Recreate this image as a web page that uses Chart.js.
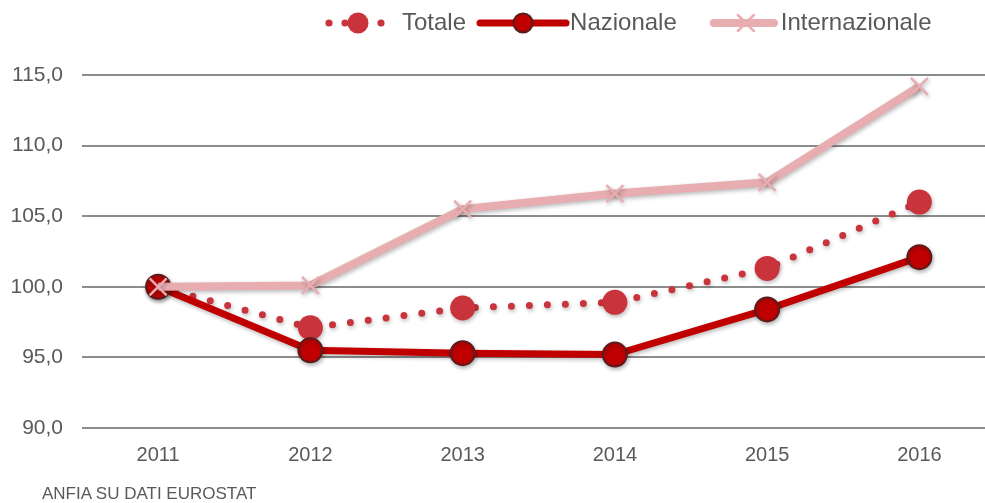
<!DOCTYPE html>
<html>
<head>
<meta charset="utf-8">
<script src="https://cdn.jsdelivr.net/npm/chart.js@4.4.1/dist/chart.umd.min.js"></script>
<style>
  body { margin: 0; overflow: hidden; background: #fff; }
  #wrap { position: relative; width: 1010px; height: 503px; }
  #source {
    position: absolute; left: 42px; top: 484px;
    font: 17px "Liberation Sans", sans-serif; color: #595959;
  }
</style>
</head>
<body>
<div id="wrap">
  <canvas id="chart" width="1010" height="503"></canvas>
  <div id="source">ANFIA SU DATI EUROSTAT</div>
</div>
<script>
// data (2011 = 100)
const years = ['2011', '2012', '2013', '2014', '2015', '2016'];
const totale = [100.0, 97.1, 98.5, 98.9, 101.3, 106.0];
const nazionale = [100.0, 95.5, 95.3, 95.2, 98.4, 102.1];
const internazionale = [100.0, 100.1, 105.5, 106.6, 107.4, 114.2];

const RED_TOT = '#c9333c';
const RED_NAZ = '#c00000';
const PINK = '#e8adb0';
const TEXT = '#595959';

// small pictures for the legend: line + marker, like the original
function makeIcon(w, draw) {
  const c = document.createElement('canvas');
  c.width = w;
  c.height = 28;
  draw(c.getContext('2d'), w);
  return c;
}

const icons = [
  makeIcon(60, ctx => {
    ctx.fillStyle = RED_TOT;
    [4, 20, 56].forEach(x => {
      ctx.beginPath(); ctx.arc(x, 14, 3.6, 0, Math.PI * 2); ctx.fill();
    });
    ctx.beginPath(); ctx.arc(33, 14, 10.5, 0, Math.PI * 2); ctx.fill();
  }),
  makeIcon(94, (ctx, w) => {
    ctx.strokeStyle = RED_NAZ; ctx.lineWidth = 7; ctx.lineCap = 'round';
    ctx.beginPath(); ctx.moveTo(4, 14); ctx.lineTo(w - 4, 14); ctx.stroke();
    ctx.fillStyle = RED_NAZ; ctx.strokeStyle = '#5a1c1c'; ctx.lineWidth = 2;
    ctx.beginPath(); ctx.arc(w / 2, 14, 9.5, 0, Math.PI * 2); ctx.fill(); ctx.stroke();
  }),
  makeIcon(88, (ctx, w) => {
    ctx.strokeStyle = PINK; ctx.lineWidth = 8; ctx.lineCap = 'round';
    ctx.beginPath(); ctx.moveTo(24, 14); ctx.lineTo(w - 4, 14); ctx.stroke();
    const cx = 56;
    ctx.lineWidth = 2.5;
    ctx.beginPath();
    ctx.moveTo(cx - 8, 6); ctx.lineTo(cx + 8, 22);
    ctx.moveTo(cx + 8, 6); ctx.lineTo(cx - 8, 22);
    ctx.stroke();
  })
];

// soft drop shadow under lines and markers
const shadowPlugin = {
  id: 'shadow',
  beforeDatasetsDraw(chart) {
    const ctx = chart.ctx;
    ctx.save();
    ctx.shadowColor = 'rgba(0,0,0,0.28)';
    ctx.shadowBlur = 4;
    ctx.shadowOffsetX = 1;
    ctx.shadowOffsetY = 2;
  },
  afterDatasetsDraw(chart) {
    chart.ctx.restore();
  }
};

// fixed legend band height, legend placed like the original
const legendPlugin = {
  id: 'legendBand',
  beforeInit(chart) {
    const legend = chart.legend;
    const fit = legend.fit;
    legend.fit = function () {
      fit.call(this);
      this.height = 75;
    };
  },
  afterLayout(chart) {
    chart.legend.left = 298;
    chart.legend.top = -11;
  }
};

new Chart(document.getElementById('chart'), {
  type: 'line',
  data: {
    labels: years,
    datasets: [
      {
        label: 'Totale',
        data: totale,
        borderColor: RED_TOT,
        backgroundColor: RED_TOT,
        borderWidth: 7,
        borderDash: [0, 18],
        borderCapStyle: 'round',
        pointRadius: 12.5,
        pointBorderWidth: 0,
        order: 3
      },
      {
        label: 'Nazionale',
        data: nazionale,
        borderColor: RED_NAZ,
        backgroundColor: RED_NAZ,
        borderWidth: 7,
        pointRadius: 12,
        pointBorderColor: '#5a1c1c',
        pointBorderWidth: 2,
        order: 2
      },
      {
        label: 'Internazionale',
        data: internazionale,
        borderColor: PINK,
        backgroundColor: PINK,
        borderWidth: 8,
        pointStyle: 'crossRot',
        pointRadius: 12,
        pointBorderWidth: 2.5,
        order: 1
      }
    ]
  },
  options: {
    responsive: false,
    animation: false,
    layout: { padding: 0 },
    plugins: {
      tooltip: { enabled: false },
      legend: {
        position: 'top',
        align: 'start',
        labels: {
          usePointStyle: true,
          pointStyleWidth: 70,
          padding: 22,
          color: TEXT,
          font: { family: 'Liberation Sans', size: 24 },
          sort: (a, b) => a.datasetIndex - b.datasetIndex,
          generateLabels(chart) {
            const items = Chart.defaults.plugins.legend.labels.generateLabels(chart);
            items.forEach(it => { it.pointStyle = icons[it.datasetIndex]; });
            return items;
          }
        }
      }
    },
    scales: {
      x: {
        offset: true,
        grid: { display: false },
        border: { display: false },
        ticks: {
          color: TEXT,
          padding: 7,
          font: { family: 'Liberation Sans', size: 20 }
        },
        afterFit(scale) { scale.height = 75; }
      },
      y: {
        min: 90,
        max: 115,
        grid: { color: '#8c8c8c', lineWidth: 2, drawTicks: false },
        border: { display: false },
        ticks: {
          stepSize: 5,
          color: TEXT,
          padding: 19,
          font: { family: 'Liberation Sans', size: 21 },
          callback: v => v.toFixed(1).replace('.', ',')
        },
        afterFit(scale) { scale.width = 82; }
      }
    }
  },
  plugins: [shadowPlugin, legendPlugin]
});
</script>
</body>
</html>
